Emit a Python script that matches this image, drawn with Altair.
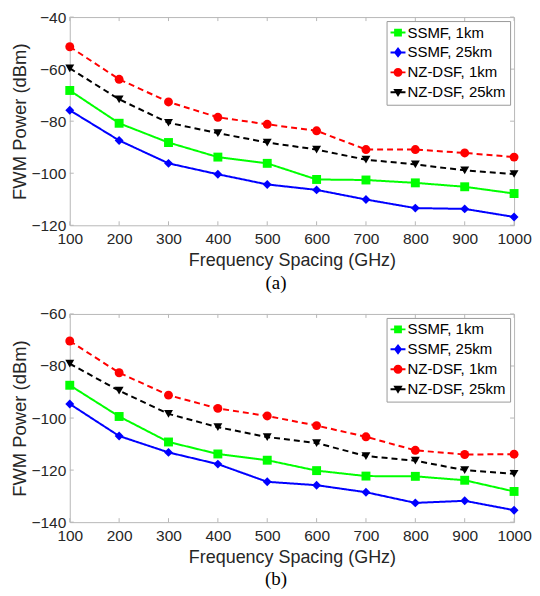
import altair as alt
import pandas as pd

freq = [100, 200, 300, 400, 500, 600, 700, 800, 900, 1000]
series = ["SSMF, 1km", "SSMF, 25km", "NZ-DSF, 1km", "NZ-DSF, 25km"]
colors = ["#00ff00", "#0000ff", "#ff0000", "#000000"]
shapes = ["square", "diamond", "circle", "triangle-down"]
dashes = [[1, 0], [1, 0], [6, 4], [6, 4]]
# legend symbols: short line segment with the marker on it (unit box -1..1)
LINE = "M-1,-0.13H1V0.13H-1Z"
legend_shapes = [
    LINE + "M-0.52,-0.52H0.52V0.52H-0.52Z",
    LINE + "M0,-0.72L0.55,0L0,0.72L-0.55,0Z",
    LINE + "M-0.6,0A0.6,0.6 0 1,1 0.6,0A0.6,0.6 0 1,1 -0.6,0Z",
    LINE + "M-0.62,-0.45L0.62,-0.45L0,0.62Z",
]

# panel (a)
a_ssmf_1 = [-68.2, -80.8, -88.2, -93.8, -96.2, -102.4, -102.6, -103.7, -105.2, -107.8]
a_ssmf_25 = [-75.8, -87.4, -96.2, -100.4, -104.3, -106.4, -110.1, -113.4, -113.7, -116.8]
a_nzdsf_1 = [-51.4, -63.9, -72.6, -78.5, -81.2, -83.7, -90.9, -90.9, -92.2, -93.8]
a_nzdsf_25 = [-59.7, -71.6, -80.6, -84.6, -88.2, -90.9, -94.8, -96.6, -98.9, -100.3]
a_yticks = [-120, -100, -80, -60, -40]

# panel (b)
b_ssmf_1 = [-87.4, -99.4, -109.2, -113.8, -116.2, -120.2, -122.3, -122.4, -123.9, -128.2]
b_ssmf_25 = [-94.6, -106.9, -113.2, -117.7, -124.5, -125.8, -128.5, -132.6, -131.8, -135.4]
b_nzdsf_1 = [-70.4, -82.6, -91.2, -96.3, -99.2, -102.9, -107.2, -112.4, -114.0, -113.9]
b_nzdsf_25 = [-79.1, -89.5, -98.4, -103.5, -107.3, -109.6, -114.6, -116.4, -120.0, -121.4]
b_yticks = [-140, -120, -100, -80, -60]

W, H = 446, 209
SANS = "Liberation Sans"
TXT = "#262626"
FRAME = "#b8b8b8"
TICK = 4


def panel(vals, yticks, caption):
    rows = []
    for name, v in zip(series, vals):
        for f, p in zip(freq, v):
            rows.append({"freq": f, "power": p, "series": name})
    df = pd.DataFrame(rows)
    xt = pd.DataFrame({"freq": freq})
    yt = pd.DataFrame({"power": yticks})

    x = alt.X("freq:Q",
              scale=alt.Scale(domain=[freq[0], freq[-1]], nice=False, zero=False),
              axis=alt.Axis(values=freq, format="d", title="Frequency Spacing (GHz)", grid=False,
                            domain=False, ticks=False, labelPadding=6, titlePadding=5,
                            labelFont=SANS, labelFontSize=15.5, labelColor=TXT,
                            titleFont=SANS, titleFontSize=18, titleFontWeight="normal",
                            titleColor=TXT, labelFlush=False))
    y = alt.Y("power:Q",
              scale=alt.Scale(domain=[yticks[0], yticks[-1]], nice=False, zero=False),
              axis=alt.Axis(values=yticks, format="d", title="FWM Power (dBm)", grid=False,
                            domain=False, ticks=False, labelPadding=4, titlePadding=2,
                            labelFont=SANS, labelFontSize=15.5, labelColor=TXT,
                            titleFont=SANS, titleFontSize=18.5, titleFontWeight="normal",
                            titleColor=TXT, labelFlush=False))

    data_layers = []
    for name, c, s, d in zip(series, colors, shapes, dashes):
        sub = alt.Chart(df).transform_filter(alt.datum.series == name)
        data_layers.append(sub.mark_line(strokeWidth=2, color=c, strokeDash=d).encode(x=x, y=y))
        data_layers.append(sub.mark_point(filled=True, size=80, opacity=1, shape=s, color=c)
                           .encode(x=x, y=y))

    legend = alt.Legend(title=None, orient="top-right", offset=4, fillColor="white",
                        strokeColor="#9a9a9a", padding=4, labelFont=SANS, labelFontSize=15,
                        labelColor="black", symbolSize=225, rowPadding=4, labelOffset=2,
                        symbolStrokeWidth=0, cornerRadius=0)
    leg = alt.Chart(df).mark_point(filled=True, size=0, opacity=1).encode(
        x=x, y=y,
        color=alt.Color("series:N", scale=alt.Scale(domain=series, range=colors), legend=legend),
        shape=alt.Shape("series:N", scale=alt.Scale(domain=series, range=legend_shapes), legend=legend),
    )

    tb = alt.Chart(xt).mark_rule(color=FRAME, strokeWidth=1).encode(
        x=x, y=alt.value(H), y2=alt.value(H - TICK))
    tt = alt.Chart(xt).mark_rule(color=FRAME, strokeWidth=1).encode(
        x=x, y=alt.value(0), y2=alt.value(TICK))
    tl = alt.Chart(yt).mark_rule(color=FRAME, strokeWidth=1).encode(
        y=y, x=alt.value(0), x2=alt.value(TICK))
    tr = alt.Chart(yt).mark_rule(color=FRAME, strokeWidth=1).encode(
        y=y, x=alt.value(W), x2=alt.value(W - TICK))

    return alt.layer(tb, tt, tl, tr, *data_layers, leg).properties(
        width=W, height=H,
        title=alt.TitleParams(caption, orient="bottom", font="Liberation Serif", fontSize=19,
                              fontWeight="normal", color="black", offset=4, anchor="middle",
                              dx=-16),
    )


pa = panel([a_ssmf_1, a_ssmf_25, a_nzdsf_1, a_nzdsf_25], a_yticks, "(a)")
pb = panel([b_ssmf_1, b_ssmf_25, b_nzdsf_1, b_nzdsf_25], b_yticks, "(b)")

chart = alt.vconcat(pa, pb, spacing=13).resolve_scale(
    color="independent", shape="independent"
).resolve_legend(
    color="independent", shape="independent"
).properties(
    padding={"left": 1, "top": 0, "right": 0, "bottom": 0}, background="white"
).configure_view(stroke=FRAME, strokeWidth=1)

chart.save("out.html", embed_options={"renderer": "svg", "actions": False})
